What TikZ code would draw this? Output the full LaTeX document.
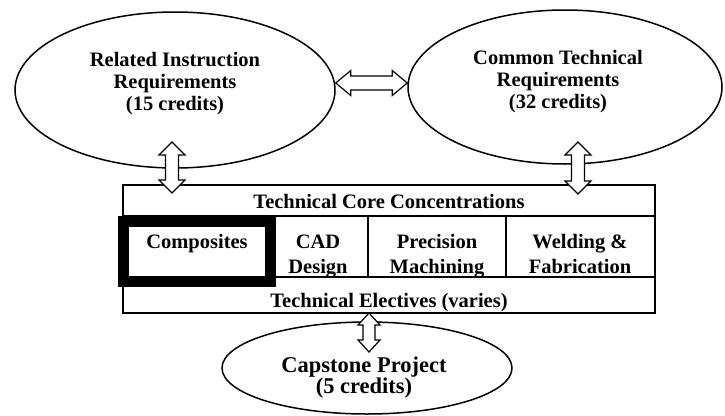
\documentclass[tikz,border=0pt]{standalone}
\usepackage{fontspec}
\setmainfont{Liberation Serif}
\usetikzlibrary{shapes.geometric,calc}
\newcommand\stk[1]{\begin{tabular}[t]{@{}c@{}}#1\end{tabular}}
% vertical double block arrow: #1 top tip, #2 bottom tip, #3 head half width, #4 shaft half width, #5 head length
\newcommand\vdarr[5]{\draw[blockarrow] (#1) -- ($(#1)+(#3,-#5)$) -- ($(#1)+(#4,-#5)$) -- ($(#2)+(#4,#5)$) -- ($(#2)+(#3,#5)$) -- (#2) -- ($(#2)+(-#3,#5)$) -- ($(#2)+(-#4,#5)$) -- ($(#1)+(-#4,-#5)$) -- ($(#1)+(-#3,-#5)$) -- cycle;}
% horizontal double block arrow: #1 left tip, #2 right tip
\newcommand\hdarr[5]{\draw[blockarrow] (#1) -- ($(#1)+(#5,#3)$) -- ($(#1)+(#5,#4)$) -- ($(#2)+(-#5,#4)$) -- ($(#2)+(-#5,#3)$) -- (#2) -- ($(#2)+(-#5,-#3)$) -- ($(#2)+(-#5,-#4)$) -- ($(#1)+(#5,-#4)$) -- ($(#1)+(#5,-#3)$) -- cycle;}
\begin{document}
\begin{tikzpicture}[x=1pt,y=1pt,
  ell/.style={draw, ellipse, line width=1.5pt, inner sep=0pt},
  lbl/.style={font=\bfseries\fontsize{20.5}{22}\selectfont, anchor=base, inner sep=0pt},
  cell/.style={font=\bfseries\fontsize{20.5}{25}\selectfont, anchor=base, inner sep=0pt},
  capl/.style={font=\bfseries\fontsize{22.5}{21}\selectfont, anchor=base, inner sep=0pt},
  blockarrow/.style={draw, fill=white, line width=1.2pt, line join=miter},
  frame/.style={draw, line width=2pt},
  sep/.style={draw, line width=1.3pt},
  focus/.style={draw, line width=11pt}]
\useasboundingbox (0,0) rectangle (725,-415);
% ellipses
\node[ell, minimum width=320, minimum height=156] (L) at (175,-90) {};
\node[ell, minimum width=314, minimum height=154] (R) at (565,-87) {};
\node[ell, minimum width=290, minimum height=92] (C) at (367,-368) {};
\node[lbl] (Lt) at (175,-66) {\stk{Related Instruction\\Requirements\\(15 credits)}};
\node[lbl] (Rt) at (558,-64) {\stk{Common Technical\\Requirements\\(32 credits)}};
\node[capl] (Ct) at (364,-372) {\stk{Capstone Project\\(5 credits)}};
% central box
\draw[frame] (123,-185) rectangle (655,-313);
\draw[frame] (123,-216) -- (655,-216);
\draw[frame] (123,-277) -- (655,-277);
\draw[sep] (368,-216) -- (368,-277);
\draw[sep] (506,-216) -- (506,-277);
\draw[focus] (123,-221) rectangle (270,-281.5);
\node[cell] (top) at (389,-208) {Technical Core Concentrations};
\node[cell] (bot) at (389,-307) {Technical Electives (varies)};
\node[cell] (comp) at (197,-248) {Composites};
\node[cell] (cad) at (318,-248) {\stk{CAD\\Design}};
\node[cell] (prec) at (437,-248) {\stk{Precision\\Machining}};
\node[cell] (weld) at (580,-248) {\stk{Welding \&\\Fabrication}};
% arrows
\coordinate (h1) at ($(L.east)+(0,7)$);
\coordinate (h2) at ($(R.west)+(0,4)$);
\coordinate (v1a) at (172,-142);
\coordinate (v1b) at (172,-193);
\coordinate (v2a) at (578,-142);
\coordinate (v2b) at (578,-194);
\coordinate (v3a) at (369,-313);
\coordinate (v3b) at (369,-352);
\hdarr{h1}{h2}{12.5}{7}{15}
\vdarr{v1a}{v1b}{13}{6.5}{13}
\vdarr{v2a}{v2b}{13}{6.5}{13}
\vdarr{v3a}{v3b}{11}{6}{12}
\end{tikzpicture}
\end{document}
